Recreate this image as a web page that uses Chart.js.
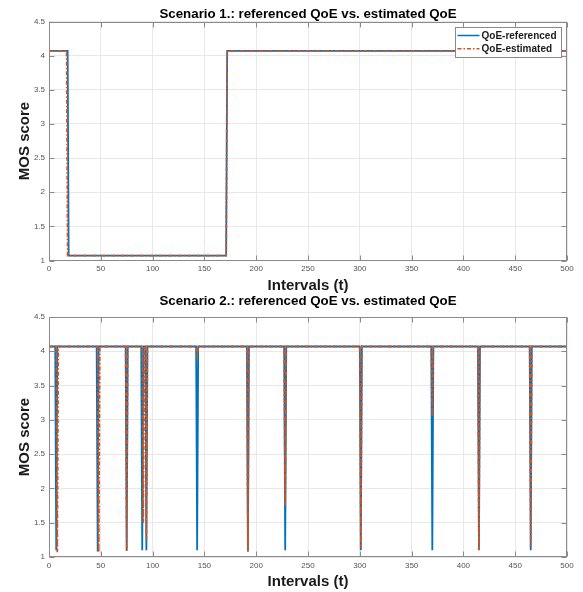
<!DOCTYPE html>
<html><head><meta charset="utf-8">
<script src="https://cdn.jsdelivr.net/npm/chart.js@4.4.0/dist/chart.umd.min.js"></script>
<style>
html,body{margin:0;padding:0;background:#fff;}
#w1{position:absolute;left:0;top:0;width:583px;height:294px;}
#w2{position:absolute;left:0;top:294px;width:583px;height:298px;}
</style></head><body>
<div id="w1"><canvas id="c1" width="583" height="294"></canvas></div>
<div id="w2"><canvas id="c2" width="583" height="298"></canvas></div>
<script>
// ---- tick labels ----
const xTickValues = [0,50,100,150,200,250,300,350,400,450,500];
const yTickValues = [1,1.5,2,2.5,3,3.5,4,4.5];
const seriesNames = ['QoE-referenced','QoE-estimated'];
const titles = ['Scenario 1.: referenced QoE vs. estimated QoE','Scenario 2.: referenced QoE vs. estimated QoE'];

// ---- Scenario 1 ----
const s1RefT   = [0, 18, 19, 171, 172, 500];
const s1RefMOS = [4.07, 4.07, 1.07, 1.07, 4.07, 4.07];
const s1EstT   = [0, 17, 18, 171, 172, 500];
const s1EstMOS = [4.07, 4.07, 1.07, 1.07, 4.07, 4.07];

// ---- Scenario 2 ----
const s2RefT = [0, 6,7,8, 46,47,48, 74,75,76, 89,90,91, 93,94,95, 142,143,144, 191,192,193, 227,228,229, 300,301,302, 369,370,371, 414,415,416, 464,465,466, 500];
const s2RefMOS = [4.07, 4.07,1.10,4.07, 4.07,1.08,4.07, 4.07,1.09,4.07, 4.07,1.10,4.07, 4.07,1.10,4.07, 4.07,1.10,4.07, 4.07,1.08,4.07, 4.07,1.10,4.07, 4.07,1.10,4.07, 4.07,1.10,4.07, 4.07,1.10,4.07, 4.07,1.10,4.07, 4.07];
const s2EstT = [0, 7,8,9, 47,48,49, 74,75,76, 90,91,92, 93,94,95, 142,143,144, 191,192,193, 227,228,229, 300,301,302, 369,370,371, 414,415,416, 464,465,466, 500];
const s2EstMOS = [4.07, 4.07,1.07,4.07, 4.07,1.07,4.07, 4.07,1.09,4.07, 4.07,1.50,4.07, 4.07,1.25,4.07, 4.07,3.95,4.07, 4.07,1.08,4.07, 4.07,1.75,4.07, 4.07,1.13,4.07, 4.07,3.05,4.07, 4.07,1.10,4.07, 4.07,1.15,4.07, 4.07];

const BLUE = '#0072BD', ORANGE = '#D95319';
const FONT = '"Liberation Sans", Arial, Helvetica, sans-serif';
Chart.defaults.font.family = FONT;

const toPts = (t, v) => t.map((x, i) => ({x: x, y: v[i]}));

const frame = {
  id: 'frame',
  afterDraw(chart) {
    const {ctx, chartArea: a, scales: {x, y}} = chart;
    ctx.save();
    ctx.strokeStyle = '#8a8a8a';
    ctx.lineWidth = 1;
    const L = Math.round(a.left) + 0.5, R = Math.round(a.right) - 0.5;
    const T = Math.round(a.top) + 0.5, B = Math.round(a.bottom) - 0.5;
    ctx.strokeRect(L, T, R - L, B - T);
    ctx.beginPath();
    xTickValues.forEach(v => {
      const p = Math.round(x.getPixelForValue(v)) + 0.5;
      ctx.moveTo(p, B); ctx.lineTo(p, B - 5);
      ctx.moveTo(p, T); ctx.lineTo(p, T + 5);
    });
    yTickValues.forEach(v => {
      const p = Math.round(y.getPixelForValue(v)) + 0.5;
      ctx.moveTo(L, p); ctx.lineTo(L + 5, p);
      ctx.moveTo(R, p); ctx.lineTo(R - 5, p);
    });
    ctx.stroke();
    ctx.restore();
  }
};

const legendBox = {
  id: 'legendBox',
  afterDatasetsDraw(chart, args, opts) {
    if (!opts.show) return;
    const {ctx, chartArea: a} = chart;
    const w = 106, h = 30;
    const x0 = Math.round(a.right - 6 - w) + 0.5, y0 = Math.round(a.top + 5.5) + 0.5;
    ctx.save();
    ctx.fillStyle = '#fff';
    ctx.fillRect(x0, y0, w, h);
    ctx.strokeStyle = '#8a8a8a';
    ctx.lineWidth = 1;
    ctx.strokeRect(x0, y0, w, h);
    ctx.font = '700 10px ' + FONT;
    ctx.textBaseline = 'middle';
    ctx.fillStyle = '#1a1a1a';
    chart.data.datasets.forEach((ds, i) => {
      const cy = y0 + 8 + i * 13.3;
      ctx.beginPath();
      ctx.strokeStyle = ds.borderColor;
      ctx.lineWidth = 1.5;
      ctx.setLineDash(ds.borderDash || []);
      ctx.moveTo(x0 + 2, cy); ctx.lineTo(x0 + 24, cy);
      ctx.stroke();
      ctx.setLineDash([]);
      ctx.fillText(ds.label, x0 + 26, cy + 0.5);
    });
    ctx.restore();
  }
};

function makeChart(id, title, refT, refV, estT, estV, cfg) {
  return new Chart(document.getElementById(id), {
    type: 'line',
    data: {
      datasets: [
        {label: seriesNames[0], data: toPts(refT, refV), borderColor: BLUE, borderWidth: 1.8,
         pointRadius: 0, tension: 0, fill: false, order: 2},
        {label: seriesNames[1], data: toPts(estT, estV), borderColor: ORANGE, borderWidth: 1.8,
         borderDash: [4, 2, 1.5, 2], pointRadius: 0, tension: 0, fill: false, order: 1}
      ]
    },
    options: {
      responsive: false, animation: false, devicePixelRatio: 1,
      layout: {padding: {left: 0, right: 16, top: 0, bottom: 0}},
      scales: {
        x: {
          type: 'linear', min: 0, max: 500,
          afterBuildTicks: s => { s.ticks = xTickValues.map(v => ({value: v})); },
          afterFit: s => { s.height = cfg.xh; },
          grid: {color: '#e8e8e8', drawTicks: false},
          border: {display: false},
          ticks: {color: '#555', font: {size: 8}, padding: cfg.xpad, autoSkip: false, maxRotation: 0,
                  callback: v => String(v)},
          title: {display: true, text: 'Intervals (t)', color: '#1a1a1a',
                  font: {size: 15, weight: 'bold', lineHeight: 1}, padding: {top: 0, bottom: cfg.xtb}}
        },
        y: {
          type: 'linear', min: 1, max: 4.5,
          afterBuildTicks: s => { s.ticks = yTickValues.map(v => ({value: v})); },
          afterFit: s => { s.width = 49; },
          grid: {color: '#e8e8e8', drawTicks: false},
          border: {display: false},
          ticks: {color: '#555', font: {size: 8}, padding: 4, callback: v => String(v)},
          title: {display: true, text: 'MOS score', color: '#1a1a1a',
                  font: {size: 15, weight: 'bold', lineHeight: 1}, padding: {top: 17.5, bottom: 0}}
        }
      },
      plugins: {
        legend: {display: false},
        tooltip: {enabled: false},
        title: {display: true, text: title, fullSize: false, color: '#000',
                font: {size: 13.3, weight: 'bold', lineHeight: 1}, padding: {top: cfg.tt, bottom: cfg.tb}},
        legendBox: {show: cfg.legend}
      }
    },
    plugins: [legendBox, frame]
  });
}

makeChart('c1', titles[0], s1RefT, s1RefMOS, s1EstT, s1EstMOS,
  {xh: 33.5, xpad: 3.7, xtb: 0.5, tt: 8, tb: 0.2, legend: true});
makeChart('c2', titles[1], s2RefT, s2RefMOS, s2EstT, s2EstMOS,
  {xh: 35, xpad: 4.2, xtb: 2.5, tt: 1, tb: 8.7, legend: false});
</script>
</body></html>
